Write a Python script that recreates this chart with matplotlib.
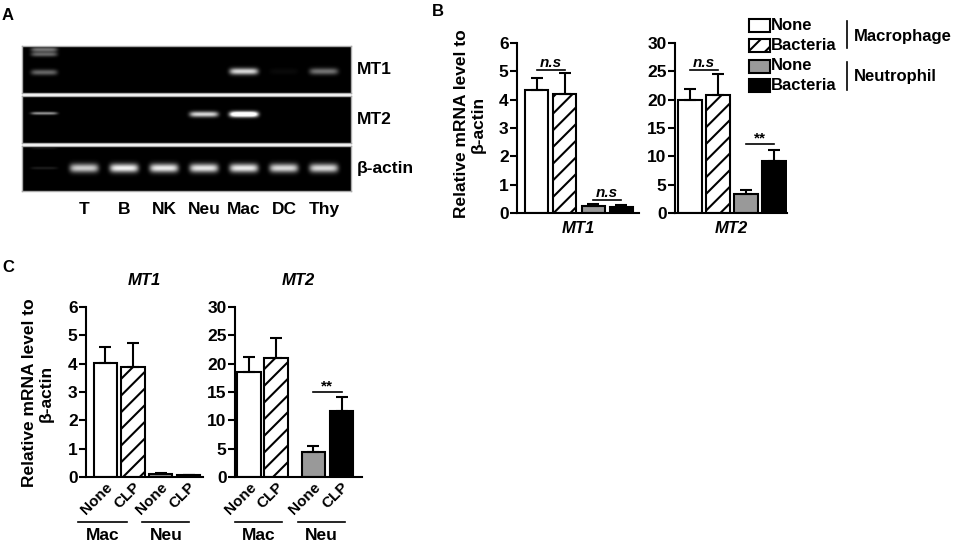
import numpy as np
import matplotlib
matplotlib.use('Agg')
import matplotlib.pyplot as plt
from matplotlib.patches import Rectangle

plt.rcParams['font.family'] = ['Liberation Sans', 'DejaVu Sans']
plt.rcParams['font.weight'] = 'bold'
plt.rcParams['hatch.linewidth'] = 1.5

# данные: гель (A)
lanes = ['T', 'B', 'NK', 'Neu', 'Mac', 'DC', 'Thy']
gel_rows = ['MT1', 'MT2', 'β-actin']
band_mt1 = [0.0, 0.0, 0.0, 0.0, 0.85, 0.04, 0.45]
band_mt2 = [0.0, 0.0, 0.0, 0.85, 1.4, 0.0, 0.0]
band_actin = [0.8, 0.95, 0.92, 0.9, 0.92, 0.85, 0.85]

# данные: B (макрофаги / нейтрофилы, None / Bacteria)
legend_labels = ['None', 'Bacteria', 'None', 'Bacteria']
b_mt1 = [4.35, 4.2, 0.26, 0.21]
b_mt1_err = [0.4, 0.75, 0.07, 0.06]
b_mt2 = [20.0, 20.9, 3.4, 9.1]
b_mt2_err = [1.9, 3.7, 0.7, 2.0]

# данные: C (CLP)
c_ticks = ['None', 'CLP', 'None', 'CLP']
c_groups = ['Mac', 'Neu']
c_mt1 = [4.02, 3.88, 0.11, 0.06]
c_mt1_err = [0.57, 0.86, 0.02, 0.01]
c_mt2 = [18.5, 21.0, 4.5, 11.6]
c_mt2_err = [2.6, 3.6, 0.9, 2.5]

bar_colors = ['white', 'white', '#999999', 'black']
bar_hatches = [None, '//', None, None]

FS = 12.5
W, H = 957, 545
fig = plt.figure(figsize=(W / 100, H / 100), dpi=100)


def rect(x0, y0, x1, y1):
    return [x0 / W, 1 - y1 / H, (x1 - x0) / W, (y1 - y0) / H]


# оверлей в пикселях (легенда, буквы панелей)
ov = fig.add_axes([0, 0, 1, 1])
ov.set_zorder(10)
ov.set_xlim(0, W)
ov.set_ylim(H, 0)
ov.axis('off')

for t, x, y in [('A', 8, 15), ('B', 438, 11), ('C', 8, 267)]:
    ov.text(x, y, t, fontsize=12, ha='center', va='center')

# ---------- A: гель ----------
gx0, gx1 = -0.55, 7.675
xs = np.linspace(gx0, gx1, 660)
ys = np.linspace(0, 1, 94)
X, Y = np.meshgrid(xs, ys)


def band(xc, yc, wx, hy, a):
    return a * np.exp(-np.abs((X - xc) / wx) ** 6) * np.exp(-((Y - yc) / hy) ** 2)


strips = [(46, 93, band_mt1, 0.55, 0.07, [(0.09, 0.45, 0.05), (0.19, 0.4, 0.05), (0.57, 0.4, 0.06)]),
          (96, 143, band_mt2, 0.40, 0.06, [(0.38, 0.6, 0.03)]),
          (146, 191, band_actin, 0.49, 0.10, [(0.49, 0.12, 0.03), (0.05, 0.08, 0.02)])]
gel_axes = []
for (y0, y1, amps, yc, hy, ladder), name in zip(strips, gel_rows):
    ax = fig.add_axes(rect(22, y0, 351, y1))
    img = np.zeros_like(X)
    for i, a in enumerate(amps):
        img += band(i + 1, yc, 0.36, hy, a)
    for ly, la, lh in ladder:
        img += band(0, ly, 0.33, lh, la)
    ax.imshow(np.clip(img, 0, 1), cmap='gray', vmin=0, vmax=1, extent=(gx0, gx1, 1, 0),
              aspect='auto', interpolation='bilinear')
    ax.set_xlim(gx0, gx1)
    ax.set_ylim(1, 0)
    ax.set_xticks([])
    ax.set_yticks([])
    for s in ax.spines.values():
        s.set_color('#aaaaaa')
        s.set_linewidth(1)
    ov.text(357, (y0 + y1) / 2, name, fontsize=12.5, ha='left', va='center')
    gel_axes.append(ax)

for i, lab in enumerate(lanes):
    gel_axes[2].text(i + 1, -0.42, lab, transform=gel_axes[2].get_xaxis_transform(),
                     fontsize=12.5, ha='center', va='center')


# ---------- столбики ----------
def bar_panel(r, pos, vals, errs, ymax, step, xlim, width):
    ax = fig.add_axes(rect(*r))
    ax.patch.set_visible(False)
    bars = ax.bar(pos, vals, width, color=bar_colors, edgecolor='black', linewidth=1.5, zorder=2)
    for b, h in zip(bars, bar_hatches):
        if h:
            b.set_hatch(h)
    ax.errorbar(pos, vals, yerr=[np.zeros(len(vals)), errs], fmt='none', ecolor='black',
                elinewidth=1.5, capsize=4.5, capthick=1.5, zorder=3)
    ax.set_ylim(0, ymax)
    ax.set_yticks(np.arange(0, ymax + step / 2, step))
    ax.set_xlim(*xlim)
    for s in ['top', 'right']:
        ax.spines[s].set_visible(False)
    for s in ['left', 'bottom']:
        ax.spines[s].set_linewidth(1.5)
    ax.tick_params(axis='y', width=1.5, length=5, labelsize=FS, pad=1)
    ax.tick_params(axis='x', length=0)
    return ax


def sig(ax, x0, x1, y, txt, dy, italic=False):
    ax.plot([x0, x1], [y, y], color='black', lw=1.2, clip_on=False)
    ax.text((x0 + x1) / 2, y + dy, txt, ha='center', va='bottom', fontsize=11,
            style='italic' if italic else 'normal')


# B
pos_b = [0, 1, 2, 3]
ax = bar_panel((517, 43, 639, 213), pos_b, b_mt1, b_mt1_err, 6, 1, (-0.71, 3.64), 0.82)
ax.set_xticks([])
ax.text(0.5, -0.094, 'MT1', transform=ax.transAxes, ha='center', va='center', style='italic', fontsize=12)
sig(ax, 0, 1, 5.05, 'n.s', 0.0, True)
sig(ax, 2, 3, 0.46, 'n.s', 0.0, True)

ax = bar_panel((675, 43, 787, 213), pos_b, b_mt2, b_mt2_err, 30, 5, (-0.54, 3.45), 0.86)
ax.set_xticks([])
ax.text(0.5, -0.094, 'MT2', transform=ax.transAxes, ha='center', va='center', style='italic', fontsize=12)
sig(ax, 0, 1, 25.2, 'n.s', 0.0, True)
sig(ax, 2, 3, 12.2, '**', -0.3)

fig.text(470 / W, 1 - 124 / H, 'Relative mRNA level to\nβ-actin', rotation=90, ha='center', va='center',
         multialignment='center', fontsize=FS)

# легенда B
rows_y = [25, 45, 66, 85]
for y, lab, c, h in zip(rows_y, legend_labels, bar_colors, bar_hatches):
    ov.add_patch(Rectangle((749, y - 6.5), 21, 13, facecolor=c, edgecolor='black', lw=1.5,
                           hatch=h if h else None))
    ov.text(771, y, lab, fontsize=12, ha='left', va='center')
ov.plot([847, 847], [21, 48], color='black', lw=1.2)
ov.plot([847, 847], [62, 90], color='black', lw=1.2)
ov.text(854, 36, 'Macrophage', fontsize=12, ha='left', va='center')
ov.text(854, 76, 'Neutrophil', fontsize=12, ha='left', va='center')


# C
def c_labels(ax, pos, spans, title):
    ax.set_xticks(pos)
    ax.set_xticklabels(c_ticks, rotation=45, ha='right', rotation_mode='anchor', fontsize=11)
    ax.tick_params(axis='x', pad=2)
    tr = ax.get_xaxis_transform()
    for (a, b), g in zip(spans, c_groups):
        ax.plot([a, b], [-0.265, -0.265], color='black', lw=1.2, transform=tr, clip_on=False)
        ax.text((a + b) / 2, -0.345, g, transform=tr, ha='center', va='center', fontsize=12.5)
    ax.set_title(title, style='italic', fontweight='bold', fontsize=12, pad=16)


pos_c1 = [0, 1, 2, 3]
ax = bar_panel((86, 307, 203, 477), pos_c1, c_mt1, c_mt1_err, 6, 1, (-0.69, 3.52), 0.84)
c_labels(ax, pos_c1, [(-0.97, 0.79), (1.34, 3.03)], 'MT1')

pos_c2 = [0, 1, 2.36, 3.39]
ax = bar_panel((235, 307, 362, 477), pos_c2, c_mt2, c_mt2_err, 30, 5, (-0.51, 4.14), 0.86)
c_labels(ax, pos_c2, [(-0.51, 1.22), (1.78, 3.5)], 'MT2')
sig(ax, 2.36, 3.39, 15.0, '**', -0.3)

fig.text(38 / W, 1 - 393 / H, 'Relative mRNA level to\nβ-actin', rotation=90, ha='center', va='center',
         multialignment='center', fontsize=FS)

fig.savefig('out.png', dpi=100)
